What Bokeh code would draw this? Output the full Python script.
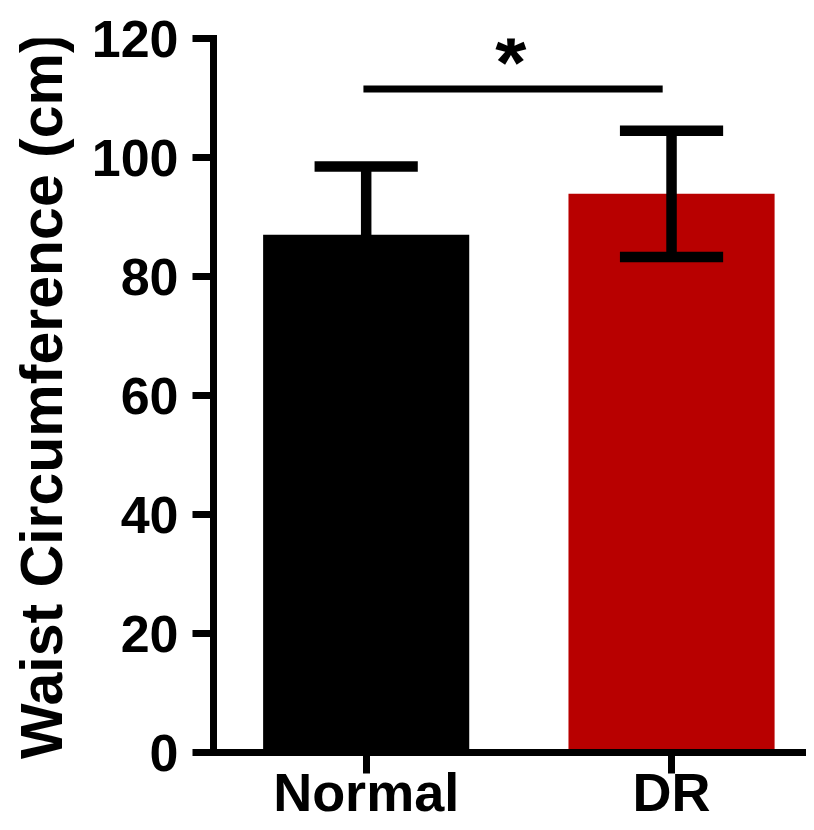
import math
from bokeh.plotting import figure
from bokeh.layouts import row
from bokeh.models import Range1d, FixedTicker, ColumnDataSource
from bokeh.core.properties import value
from bokeh.embed import file_html
from bokeh.resources import INLINE

# ---- data ----
categories = ["Normal", "DR"]
means = [87.0, 93.9]
sds = [11.5, 10.6]
bar_colors = ["#000000", "#B80000"]
y_ticks = [0, 20, 40, 60, 80, 100, 120]
y_label = "Waist Circumference (cm)"
sig_text = "*"
sig_y = 111.5

FONT = "Liberation Sans"
H = 822
LW = 80          # width of the strip holding the y-axis title

x_pos = [i + 1 for i in range(len(categories))]
upper = [m + s for m, s in zip(means, sds)]
lower = [m - s for m, s in zip(means, sds)]

# ---- main chart: frame runs to the bottom edge, x axis pinned at y = 0 ----
p = figure(width=806 - LW, height=H, output_backend="svg", toolbar_location=None,
           x_range=Range1d(0.5, 2.442), y_range=Range1d(-11.75, 120),
           min_border_left=213 - LW, min_border_right=0, min_border_top=38,
           min_border_bottom=0)
p.outline_line_color = None
p.xgrid.visible = False
p.ygrid.visible = False
p.background_fill_color = "white"
p.border_fill_color = "white"

src = ColumnDataSource(dict(x=x_pos, top=means, color=bar_colors,
                            up=upper, lo=lower))
p.vbar(x="x", top="top", bottom=0, width=0.675, fill_color="color",
       line_color=None, source=src)

cap_half = 0.169
p.segment(x0="x", y0="lo", x1="x", y1="up", line_width=10.5,
          line_color="black", line_cap="butt", source=src)
p.segment(x0=[x - cap_half for x in x_pos], y0=upper,
          x1=[x + cap_half for x in x_pos], y1=upper,
          line_width=10.5, line_color="black", line_cap="butt")
p.segment(x0=[x - cap_half for x in x_pos], y0=lower,
          x1=[x + cap_half for x in x_pos], y1=lower,
          line_width=10.5, line_color="black", line_cap="butt")

# significance bar
p.segment(x0=[x_pos[0] - 0.009], y0=[sig_y], x1=[x_pos[1] - 0.029], y1=[sig_y],
          line_width=7, line_color="black", line_cap="butt")
p.text(x=[(x_pos[0] + x_pos[1]) / 2 - 0.026], y=[sig_y + 4.4], text=[sig_text],
       text_font=value(FONT), text_font_style="bold", text_font_size="80px",
       text_align="center", text_baseline="alphabetic", text_color="black")

# axes
for ax in (p.xaxis[0], p.yaxis[0]):
    ax.axis_line_width = 7
    ax.axis_line_color = "black"
    ax.axis_line_cap = "square"
    ax.major_tick_line_width = 7
    ax.major_tick_line_color = "black"
    ax.major_tick_in = 0
    ax.major_tick_out = 21
    ax.minor_tick_line_color = None
    ax.major_label_text_font = FONT
    ax.major_label_text_font_style = "bold"
    ax.major_label_text_font_size = "52px"
    ax.major_label_text_color = "black"

p.xaxis.fixed_location = 0
p.xaxis.ticker = FixedTicker(ticks=x_pos)
p.xaxis.major_label_overrides = {x: c for x, c in zip(x_pos, categories)}
p.xaxis.major_label_text_font_size = "54px"
p.xaxis.major_label_standoff = -12

p.yaxis.bounds = (0, 120)
p.yaxis.ticker = FixedTicker(ticks=y_ticks)
p.yaxis.major_label_standoff = 14

# ---- strip with the vertical y-axis title ----
t = figure(width=LW, height=H, output_backend="svg", toolbar_location=None,
           x_range=Range1d(0, LW), y_range=Range1d(0, H),
           min_border=0, x_axis_type=None, y_axis_type=None)
t.outline_line_color = None
t.xgrid.visible = False
t.ygrid.visible = False
t.background_fill_color = "white"
t.border_fill_color = "white"
t.text(x=[41], y=[H - 375], text=[y_label], angle=math.pi / 2,
       text_font=value(FONT), text_font_style="bold", text_font_size="59px",
       text_align="center", text_baseline="alphabetic", text_color="black")

layout = row(t, p, spacing=0)
open("out.html", "w").write(file_html(layout, INLINE))
